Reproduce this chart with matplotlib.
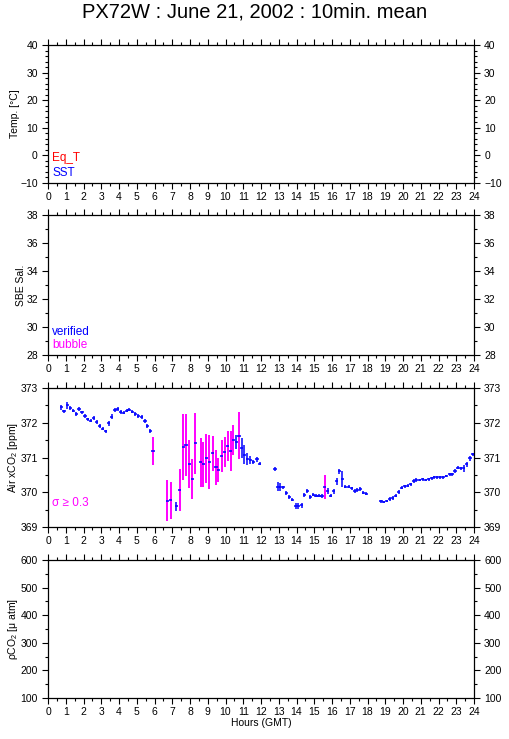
import matplotlib
matplotlib.use("Agg")
import matplotlib.pyplot as plt
import numpy as np
from matplotlib.ticker import MultipleLocator

plt.rcParams['font.family'] = ['Liberation Sans', 'DejaVu Sans']
plt.rcParams['mathtext.fontset'] = 'custom'
plt.rcParams['mathtext.rm'] = 'Liberation Sans'
plt.rcParams['mathtext.it'] = 'Liberation Sans:italic'

# 10 min means of air xCO2 (hours GMT, ppm, std)
godziny = [0.75, 0.9, 1.09, 1.26, 1.43, 1.6, 1.75, 1.9, 2.07, 2.23, 2.4, 2.57, 2.74,
           2.91, 3.08, 3.25, 3.42, 3.59, 3.76, 3.92, 4.09, 4.26, 4.43, 4.56, 4.75,
           4.92, 5.09, 5.28, 5.45, 5.6, 5.77, 5.93,
           6.72, 6.91, 7.23, 7.42, 7.63, 7.78, 7.96, 8.13, 8.3, 8.6, 8.75, 8.92,
           9.09, 9.28, 9.45, 9.6, 9.78, 9.95, 10.12, 10.29, 10.44, 10.61, 10.76,
           10.91, 11.06, 11.23, 11.4, 11.57, 11.76, 11.92,
           12.78, 12.96, 13.09, 13.26, 13.43, 13.6, 13.77, 13.95, 14.1, 14.29,
           14.44, 14.61, 14.78, 14.95, 15.11, 15.28, 15.43, 15.58, 15.75, 15.92,
           16.09, 16.26, 16.42, 16.59, 16.76, 16.93, 17.1, 17.27, 17.43, 17.6,
           17.77, 17.94,
           18.76, 18.91, 19.08, 19.25, 19.42, 19.59, 19.75, 19.92, 20.09, 20.26,
           20.43, 20.6, 20.76, 20.93, 21.1, 21.27, 21.44, 21.61, 21.77, 21.94,
           22.11, 22.28, 22.45, 22.62, 22.78, 22.93, 23.08, 23.25, 23.42, 23.59,
           23.76, 23.93]
xco2 = [372.44, 372.33, 372.5, 372.42, 372.35, 372.25, 372.39, 372.3, 372.19, 372.1,
        372.06, 372.13, 372.02, 371.91, 371.83, 371.75, 371.98, 372.17, 372.37,
        372.39, 372.31, 372.29, 372.35, 372.38, 372.32, 372.25, 372.19, 372.16,
        372.04, 371.9, 371.76, 371.19,
        369.75, 369.77, 369.6, 370.06, 371.29, 371.36, 370.81, 370.38, 371.41,
        370.86, 370.81, 370.98, 370.87, 371.12, 370.72, 370.64, 371.04, 371.15,
        371.33, 371.19, 371.5, 371.44, 371.63, 371.27, 371.08, 370.95, 370.93,
        370.87, 370.95, 370.82,
        370.66, 370.16, 370.16, 370.14, 369.99, 369.87, 369.79, 369.6, 369.6,
        369.62, 369.92, 370.03, 369.87, 369.93, 369.9, 369.9, 369.89, 370.16,
        370.04, 369.9, 370.03, 370.32, 370.6, 370.38, 370.16, 370.16, 370.11,
        370.03, 370.06, 370.09, 369.99, 369.96,
        369.74, 369.72, 369.75, 369.8, 369.84, 369.9, 370.01, 370.13, 370.17,
        370.19, 370.23, 370.32, 370.35, 370.35, 370.37, 370.35, 370.37, 370.4,
        370.43, 370.43, 370.43, 370.43, 370.47, 370.52, 370.52, 370.61, 370.71,
        370.69, 370.69, 370.8, 370.98, 371.09]
sigma = [0.06, 0.05, 0.1, 0.06, 0.05, 0.05, 0.06, 0.05, 0.06, 0.05, 0.05, 0.05, 0.05,
         0.05, 0.05, 0.05, 0.07, 0.07, 0.06, 0.05, 0.05, 0.05, 0.05, 0.05, 0.05,
         0.05, 0.05, 0.05, 0.06, 0.06, 0.06, 0.4,
         0.59, 0.53, 0.13, 0.6, 0.95, 0.9, 0.7, 0.57, 0.88, 0.71, 0.65, 0.7, 0.78,
         0.5, 0.5, 0.34, 0.46, 0.43, 0.43, 0.57, 0.44, 0.2, 0.67, 0.28, 0.28, 0.18,
         0.12, 0.06, 0.07, 0.05,
         0.06, 0.125, 0.12, 0.05, 0.06, 0.05, 0.05, 0.08, 0.08, 0.07, 0.07, 0.06,
         0.05, 0.05, 0.05, 0.05, 0.05, 0.34, 0.08, 0.05, 0.07, 0.1, 0.08, 0.23,
         0.05, 0.05, 0.05, 0.05, 0.05, 0.05, 0.05, 0.05,
         0.05, 0.04, 0.04, 0.05, 0.05, 0.05, 0.05, 0.05, 0.05, 0.04, 0.04, 0.05,
         0.05, 0.04, 0.04, 0.04, 0.04, 0.04, 0.04, 0.04, 0.04, 0.04, 0.04, 0.04,
         0.04, 0.05, 0.05, 0.05, 0.1, 0.07, 0.07, 0.05]

godziny = np.array(godziny)
xco2 = np.array(xco2)
sigma = np.array(sigma)

niebieski = '#0000ff'
rozowy = '#ff00ff'

fig = plt.figure(figsize=(5.09, 7.39), dpi=100)
W, H = 509, 739


def panel(top, bottom, ylim, major, minor, ylabel):
    ax = fig.add_axes([48 / W, 1 - bottom / H, 426 / W, (bottom - top) / H])
    ax.set_xlim(0, 24)
    ax.set_ylim(*ylim)
    ax.xaxis.set_major_locator(MultipleLocator(1))
    ax.xaxis.set_minor_locator(MultipleLocator(0.5))
    ax.yaxis.set_major_locator(MultipleLocator(major))
    ax.yaxis.set_minor_locator(MultipleLocator(minor))
    ax.tick_params(which='both', direction='out', top=True, right=True,
                   labelright=True, labelsize=7.5, width=0.8)
    ax.tick_params(axis='x', pad=2)
    ax.tick_params(axis='y', pad=3)
    ax.tick_params(which='major', length=4.3)
    ax.tick_params(which='minor', length=2.2)
    for s in ax.spines.values():
        s.set_linewidth(0.9)
    ax.set_ylabel(ylabel, fontsize=7.5, labelpad=0)
    return ax


ax1 = panel(45, 183, (-10, 40), 10, 2, 'Temp. [°C]')
ax1.text(0.01, 0.18, 'Eq_T', color='#ff0000', fontsize=8.5, transform=ax1.transAxes, va='center')
ax1.text(0.01, 0.075, 'SST', color=niebieski, fontsize=8.5, transform=ax1.transAxes, va='center')

ax2 = panel(215, 355, (28, 38), 2, 1, 'SBE Sal.')
ax2.text(0.01, 0.165, 'verified', color=niebieski, fontsize=8.5, transform=ax2.transAxes, va='center')
ax2.text(0.01, 0.07, 'bubble', color=rozowy, fontsize=8.5, transform=ax2.transAxes, va='center')

ax3 = panel(388, 527, (369, 373), 1, 0.5, 'Air xCO$_2$ [ppm]')
duze = sigma >= 0.3
ax3.errorbar(godziny, xco2, xerr=0.1, fmt='none', ecolor=niebieski, elinewidth=1.1, capsize=0)
ax3.errorbar(godziny[~duze], xco2[~duze], yerr=sigma[~duze], fmt='none',
             ecolor=niebieski, elinewidth=1.1, capsize=0)
ax3.errorbar(godziny[duze], xco2[duze], yerr=sigma[duze], fmt='none',
             ecolor=rozowy, elinewidth=1.4, capsize=0, zorder=1.5)
ax3.text(0.01, 0.173, 'σ ≥ 0.3', color=rozowy, fontsize=8.5, transform=ax3.transAxes, va='center')

ax4 = panel(560, 698, (100, 600), 100, 50, 'ρCO$_2$ [μ atm]')
ax4.set_xlabel('Hours (GMT)', fontsize=7.5, labelpad=1)

fig.text(0.5, 1 - 12 / H, 'PX72W : June 21, 2002 : 10min. mean', ha='center', va='center', fontsize=14.5)

fig.savefig('out.png', dpi=100)
